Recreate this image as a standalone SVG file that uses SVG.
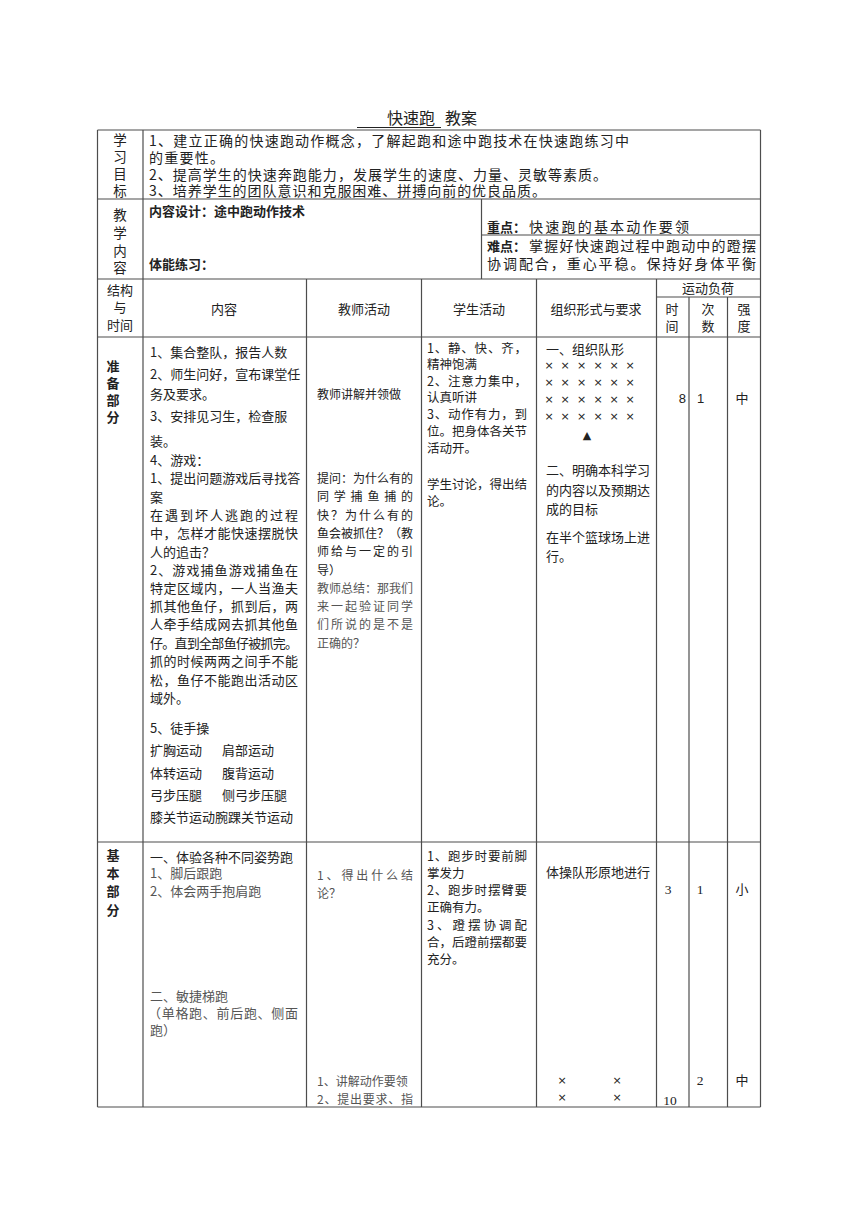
<svg xmlns="http://www.w3.org/2000/svg" width="860" height="1216" viewBox="0 0 860 1216">
<style>
.bg{fill:#ffffff}
.ln{stroke:#4d4d4d;stroke-width:1.2;fill:none}
text{font-family:"Noto Sans CJK SC","Noto Sans",sans-serif;fill:#222}
.tt{font-size:16px}
.h{font-size:13.5px;text-anchor:middle}
.h2{font-size:13px;text-anchor:middle}
.hb{font-size:13px;text-anchor:middle;font-weight:bold}
.b14{font-size:14px}
.lb{font-size:13px;font-weight:bold}
.c13{font-size:13px}
.c12{font-size:12px}
.c125{font-size:12.5px}
.g{fill:#555}
.x{font-size:11px;text-anchor:middle;font-family:"DejaVu Sans",sans-serif}
.n{font-size:13px;font-family:"Liberation Sans",sans-serif}
.ns{font-size:13.5px;font-family:"Liberation Serif",serif}
.m{text-anchor:middle}
</style>
<rect class="bg" x="0" y="0" width="860" height="1216"/>

<g id="title">
<text class="tt" x="387" y="124">快速跑<tspan x="445">教案</tspan></text>
<line x1="357" y1="127.5" x2="441" y2="127.5" stroke="#222" stroke-width="1"/>
</g>

<g id="grid">
<line class="ln" x1="97.5" y1="130" x2="760.5" y2="130"/>
<line class="ln" x1="97.5" y1="199" x2="760.5" y2="199"/>
<line class="ln" x1="481.5" y1="235" x2="760.5" y2="235"/>
<line class="ln" x1="97.5" y1="279" x2="760.5" y2="279"/>
<line class="ln" x1="656.5" y1="297" x2="760.5" y2="297"/>
<line class="ln" x1="97.5" y1="337" x2="760.5" y2="337"/>
<line class="ln" x1="97.5" y1="842" x2="760.5" y2="842"/>
<line class="ln" x1="97.5" y1="1107" x2="760.5" y2="1107"/>
<line class="ln" x1="97.5" y1="130" x2="97.5" y2="1107"/>
<line class="ln" x1="760.5" y1="130" x2="760.5" y2="1107"/>
<line class="ln" x1="143" y1="130" x2="143" y2="1107"/>
<line class="ln" x1="481.5" y1="199" x2="481.5" y2="279"/>
<line class="ln" x1="306.5" y1="279" x2="306.5" y2="1107"/>
<line class="ln" x1="421.5" y1="279" x2="421.5" y2="1107"/>
<line class="ln" x1="536.5" y1="279" x2="536.5" y2="1107"/>
<line class="ln" x1="656.5" y1="279" x2="656.5" y2="1107"/>
<line class="ln" x1="689" y1="297" x2="689" y2="1107"/>
<line class="ln" x1="727.5" y1="297" x2="727.5" y2="1107"/>
</g>

<g id="row-goals">
<text class="h"><tspan x="120" y="145">学</tspan><tspan x="120" y="162">习</tspan><tspan x="120" y="179">目</tspan><tspan x="120" y="196">标</tspan></text>
<text class="b14"><tspan x="149" y="145.5" textLength="480" lengthAdjust="spacing">1、建立正确的快速跑动作概念，了解起跑和途中跑技术在快速跑练习中</tspan><tspan x="149" y="162.5" textLength="75" lengthAdjust="spacing">的重要性。</tspan><tspan x="149" y="179.5" textLength="458" lengthAdjust="spacing">2、提高学生的快速奔跑能力，发展学生的速度、力量、灵敏等素质。</tspan><tspan x="149" y="196" textLength="397" lengthAdjust="spacing">3、培养学生的团队意识和克服困难、拼搏向前的优良品质。</tspan></text>
</g>

<g id="row-content">
<text class="h"><tspan x="120" y="220">教</tspan><tspan x="120" y="238">学</tspan><tspan x="120" y="255.5">内</tspan><tspan x="120" y="273">容</tspan></text>
<text class="lb" x="149" y="216">内容设计：途中跑动作技术</text>
<text class="lb" x="149" y="269">体能练习：</text>
<text class="b14" x="487" y="231.5"><tspan class="lb">重点：</tspan><tspan x="529" textLength="160" lengthAdjust="spacing">快速跑的基本动作要领</tspan></text>
<text class="b14"><tspan class="lb" x="487" y="251">难点：</tspan><tspan x="529" y="251" textLength="227" lengthAdjust="spacing">掌握好快速跑过程中跑动中的蹬摆</tspan><tspan x="487" y="268.5" textLength="269" lengthAdjust="spacing">协调配合，重心平稳。保持好身体平衡</tspan></text>
</g>

<g id="row-header">
<text class="h2"><tspan x="120" y="295">结构</tspan><tspan x="120" y="312">与</tspan><tspan x="120" y="330">时间</tspan></text>
<text class="h2" x="224" y="314">内容</text>
<text class="h2" x="364" y="314">教师活动</text>
<text class="h2" x="479" y="314">学生活动</text>
<text class="h2" x="596" y="314">组织形式与要求</text>
<text class="h2" x="708" y="293">运动负荷</text>
<text class="h2"><tspan x="672" y="314">时</tspan><tspan x="672" y="331">间</tspan></text>
<text class="h2"><tspan x="708" y="314">次</tspan><tspan x="708" y="331">数</tspan></text>
<text class="h2"><tspan x="744" y="314">强</tspan><tspan x="744" y="331">度</tspan></text>
</g>

<g id="row-prep">
<text class="hb"><tspan x="113" y="371">准</tspan><tspan x="113" y="388">备</tspan><tspan x="113" y="405">部</tspan><tspan x="113" y="422">分</tspan></text>

<text class="c13">
<tspan x="150" y="357">1、集合整队，报告人数</tspan>
<tspan x="150" y="379">2、师生问好，宣布课堂任</tspan>
<tspan x="150" y="399">务及要求。</tspan>
<tspan x="150" y="421">3、安排见习生，检查服</tspan>
<tspan x="150" y="446">装。</tspan>
<tspan x="150" y="465">4、游戏：</tspan>
<tspan x="150" y="483">1、提出问题游戏后寻找答</tspan>
<tspan x="150" y="502">案</tspan>
<tspan x="150" y="520" textLength="148" lengthAdjust="spacing">在遇到坏人逃跑的过程</tspan>
<tspan x="150" y="538" textLength="148" lengthAdjust="spacing">中，怎样才能快速摆脱快</tspan>
<tspan x="150" y="556.5">人的追击？</tspan>
<tspan x="150" y="575" textLength="148" lengthAdjust="spacing">2、游戏捕鱼游戏捕鱼在</tspan>
<tspan x="150" y="593" textLength="148" lengthAdjust="spacing">特定区域内，一人当渔夫</tspan>
<tspan x="150" y="611" textLength="148" lengthAdjust="spacing">抓其他鱼仔，抓到后，两</tspan>
<tspan x="150" y="629" textLength="148" lengthAdjust="spacing">人牵手结成网去抓其他鱼</tspan>
<tspan x="150" y="648" textLength="148" lengthAdjust="spacing">仔。直到全部鱼仔被抓完。</tspan>
<tspan x="150" y="666" textLength="148" lengthAdjust="spacing">抓的时候两两之间手不能</tspan>
<tspan x="150" y="685" textLength="148" lengthAdjust="spacing">松，鱼仔不能跑出活动区</tspan>
<tspan x="150" y="703">域外。</tspan>
</text>
<text class="c13">
<tspan x="150" y="733">5、徒手操</tspan>
<tspan x="150" y="755">扩胸运动</tspan><tspan x="222" y="755">肩部运动</tspan>
<tspan x="150" y="778">体转运动</tspan><tspan x="222" y="778">腹背运动</tspan>
<tspan x="150" y="800">弓步压腿</tspan><tspan x="222" y="800">侧弓步压腿</tspan>
<tspan x="150" y="822">膝关节运动腕踝关节运动</tspan>
</text>

<text class="c12" x="317" y="398.5">教师讲解并领做</text>
<text class="c12">
<tspan x="317" y="483">提问：为什么有的</tspan>
<tspan x="317" y="501" textLength="96" lengthAdjust="spacing">同学捕鱼捕的</tspan>
<tspan x="317" y="519.5" textLength="96" lengthAdjust="spacing">快？为什么有的</tspan>
<tspan x="317" y="537.5">鱼会被抓住？（教</tspan>
<tspan x="317" y="556" textLength="96" lengthAdjust="spacing">师给与一定的引</tspan>
<tspan x="317" y="574.5">导）</tspan>
<tspan class="g" x="317" y="592.5">教师总结：那我们</tspan>
<tspan class="g" x="317" y="610.5" textLength="96" lengthAdjust="spacing">来一起验证同学</tspan>
<tspan class="g" x="317" y="628.5" textLength="96" lengthAdjust="spacing">们所说的是不是</tspan>
<tspan class="g" x="317" y="647.5">正确的？</tspan>
</text>

<text class="c125">
<tspan x="427" y="353" textLength="100" lengthAdjust="spacing">1、静、快、齐，</tspan>
<tspan x="427" y="369">精神饱满</tspan>
<tspan x="427" y="386" textLength="100" lengthAdjust="spacing">2、注意力集中，</tspan>
<tspan x="427" y="402">认真听讲</tspan>
<tspan x="427" y="419" textLength="100" lengthAdjust="spacing">3、动作有力，到</tspan>
<tspan x="427" y="436">位。把身体各关节</tspan>
<tspan x="427" y="453">活动开。</tspan>
</text>
<text class="c125"><tspan x="427" y="489">学生讨论，得出结</tspan><tspan x="427" y="506">论。</tspan></text>

<text class="c13" x="546" y="354">一、组织队形</text>
<g id="formation">
<text class="x"><tspan x="549" y="369">×</tspan><tspan x="565" y="369">×</tspan><tspan x="581.5" y="369">×</tspan><tspan x="598" y="369">×</tspan><tspan x="614" y="369">×</tspan><tspan x="630" y="369">×</tspan><tspan x="549" y="386">×</tspan><tspan x="565" y="386">×</tspan><tspan x="581.5" y="386">×</tspan><tspan x="598" y="386">×</tspan><tspan x="614" y="386">×</tspan><tspan x="630" y="386">×</tspan><tspan x="549" y="403">×</tspan><tspan x="565" y="403">×</tspan><tspan x="581.5" y="403">×</tspan><tspan x="598" y="403">×</tspan><tspan x="614" y="403">×</tspan><tspan x="630" y="403">×</tspan><tspan x="549" y="420">×</tspan><tspan x="565" y="420">×</tspan><tspan x="581.5" y="420">×</tspan><tspan x="598" y="420">×</tspan><tspan x="614" y="420">×</tspan><tspan x="630" y="420">×</tspan></text>
<text class="x" x="587" y="438.5" font-size="12">▲</text>
</g>
<text class="c13"><tspan x="546" y="475">二、明确本科学习</tspan><tspan x="546" y="495">的内容以及预期达</tspan><tspan x="546" y="514">成的目标</tspan></text>
<text class="c13"><tspan x="546" y="542">在半个篮球场上进</tspan><tspan x="546" y="561">行。</tspan></text>

<text class="n" x="686" y="403" text-anchor="end">8</text>
<text class="n" x="697" y="403">1</text>
<text class="c13 m" x="742" y="403">中</text>
</g>

<g id="row-basic">
<text class="hb"><tspan x="113" y="860">基</tspan><tspan x="113" y="878">本</tspan><tspan x="113" y="896">部</tspan><tspan x="113" y="915">分</tspan></text>

<text class="c13"><tspan x="150" y="862">一、体验各种不同姿势跑</tspan><tspan class="g" x="150" y="878">1、脚后跟跑</tspan><tspan class="g" x="150" y="896">2、体会两手抱肩跑</tspan></text>
<text class="c13 g"><tspan x="150" y="1001">二、敏捷梯跑</tspan><tspan x="148" y="1018" textLength="150" lengthAdjust="spacing">（单格跑、前后跑、侧面</tspan><tspan x="150" y="1035">跑）</tspan></text>

<text class="c12 g"><tspan x="317" y="879.5" textLength="96" lengthAdjust="spacing">1、得出什么结</tspan><tspan x="317" y="897.5">论？</tspan></text>
<text class="c12 g"><tspan x="317" y="1085.5">1、讲解动作要领</tspan><tspan x="317" y="1103.5" textLength="96" lengthAdjust="spacing">2、提出要求、指</tspan></text>

<text class="c125">
<tspan x="427" y="861" textLength="100" lengthAdjust="spacing">1、跑步时要前脚</tspan>
<tspan x="427" y="878">掌发力</tspan>
<tspan x="427" y="895" textLength="100" lengthAdjust="spacing">2、跑步时摆臂要</tspan>
<tspan x="427" y="912">正确有力。</tspan>
<tspan x="427" y="930" textLength="100" lengthAdjust="spacing">3、蹬摆协调配</tspan>
<tspan x="427" y="947">合，后蹬前摆都要</tspan>
<tspan x="427" y="964">充分。</tspan>
</text>

<text class="c13" x="546" y="877">体操队形原地进行</text>
<text class="x"><tspan x="562" y="1084">×</tspan><tspan x="617" y="1084">×</tspan><tspan x="562" y="1101">×</tspan><tspan x="617" y="1101">×</tspan></text>

<text class="ns" x="668" y="894" text-anchor="middle">3</text>
<text class="ns" x="700" y="894" text-anchor="middle">1</text>
<text class="c13 m" x="742" y="894">小</text>
<text class="ns" x="700" y="1085" text-anchor="middle">2</text>
<text class="c13 m" x="742" y="1085">中</text>
<text class="ns" x="670" y="1105" text-anchor="middle">10</text>
</g>
</svg>
